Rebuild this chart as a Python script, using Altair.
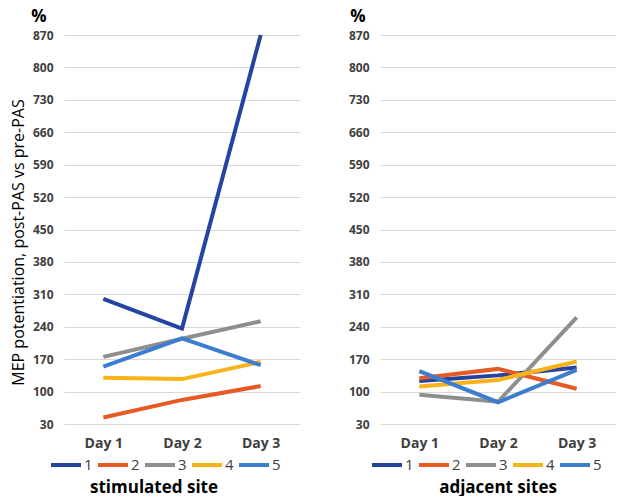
import altair as alt
import pandas as pd

days = ["Day 1", "Day 2", "Day 3"]
series = ["1", "2", "3", "4", "5"]
colors = ["#2444A0", "#E65A24", "#8E8E8E", "#F9B31A", "#3D7DCF"]
y_ticks = [30, 100, 170, 240, 310, 380, 450, 520, 590, 660, 730, 800, 870]

# stimulated site
stim_1 = [300, 236, 870]
stim_2 = [44, 82, 112]
stim_3 = [175, 214, 252]
stim_4 = [130, 127, 164]
stim_5 = [154, 215, 157]

# adjacent sites
adj_1 = [123, 135, 152]
adj_2 = [129, 149, 106]
adj_3 = [93, 78, 260]
adj_4 = [111, 125, 165]
adj_5 = [144, 77, 147]

FONT = "Open Sans"
W, H = 236, 389


def long_df(rows):
    recs = []
    for s, vals in zip(series, rows):
        for d, v in zip(days, vals):
            recs.append({"series": s, "day": d, "value": v})
    return pd.DataFrame(recs)


def panel(rows, bottom_title, ytitle, legend_x, title_x, pct_x):
    df = long_df(rows)
    yaxis_kwargs = dict(
        values=y_ticks, grid=True, gridColor="#D9D9D9", gridWidth=1,
        domain=False, ticks=False, labelFontWeight="bold", labelFontSize=12,
        labelColor="#404040", labelPadding=11, labelFont=FONT,
    )
    if ytitle:
        yaxis_kwargs.update(title=ytitle, titleFontSize=16, titleFontWeight="normal",
                            titleColor="#000000", titleFont=FONT, titlePadding=6,
                            titleY=207)
    else:
        yaxis_kwargs.update(title=None)
    lines = alt.Chart(df).mark_line(strokeWidth=4).encode(
        x=alt.X("day:N", sort=days, scale=alt.Scale(type="point", padding=0.5),
                axis=alt.Axis(title=None, domain=False, ticks=False, grid=False,
                              labelAngle=0, labelFontWeight="bold", labelFontSize=14,
                              labelColor="#404040", labelPadding=12, labelFont=FONT)),
        y=alt.Y("value:Q", scale=alt.Scale(domain=[30, 870], nice=False, zero=False),
                axis=alt.Axis(**yaxis_kwargs)),
        color=alt.Color("series:N", sort=series,
                        scale=alt.Scale(domain=series, range=colors),
                        legend=alt.Legend(orient="none", legendX=legend_x, legendY=H + 24,
                                          direction="horizontal", title=None,
                                          symbolType="stroke", symbolSize=900,
                                          symbolStrokeWidth=4, labelFontSize=15,
                                          labelColor="#404040", labelFont=FONT,
                                          labelOffset=1, columnPadding=-3,
                                          padding=0)),
        order=alt.Order("series:N"),
    )
    pct = alt.Chart(pd.DataFrame({"t": ["%"]})).mark_text(
        font=FONT, fontSize=17, fontWeight="bold", color="#000000",
        baseline="middle", align="center"
    ).encode(text="t:N", x=alt.value(pct_x), y=alt.value(-18))
    btitle = alt.Chart(pd.DataFrame({"t": [bottom_title]})).mark_text(
        font=FONT, fontSize=17, fontWeight="bold", color="#000000",
        baseline="middle", align="center"
    ).encode(text="t:N", x=alt.value(title_x), y=alt.value(H + 64))
    return alt.layer(lines, pct, btitle).properties(width=W, height=H)


left = panel([stim_1, stim_2, stim_3, stim_4, stim_5], "stimulated site",
             "MEP potentiation, post-PAS vs pre-PAS", -15, 90, -25)
right = panel([adj_1, adj_2, adj_3, adj_4, adj_5], "adjacent sites",
              None, -10, 118, -22)

chart = alt.hconcat(left, right, spacing=48).resolve_scale(
    color="independent").resolve_legend(color="independent").properties(
    padding={"left": 2, "top": 0, "right": 0, "bottom": 0},
    background="white",
).configure_view(stroke=None)

chart.save("out.html", embed_options={"renderer": "svg", "actions": False})
